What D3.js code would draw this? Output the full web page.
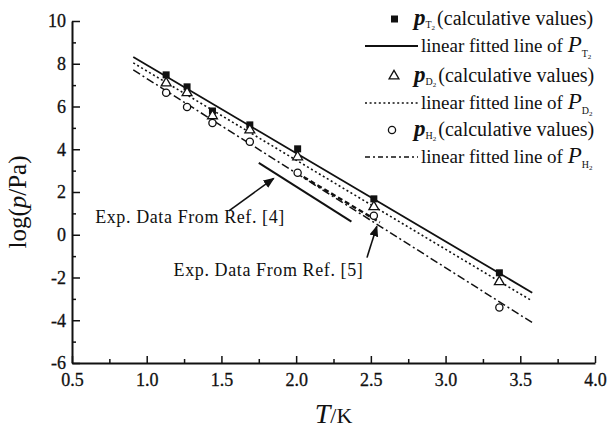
<!DOCTYPE html>
<html><head><meta charset="utf-8">
<script src="https://cdn.jsdelivr.net/npm/d3@7"></script>
<style>
body{margin:0;background:#fff}
svg{display:block}
text{font-family:"Liberation Serif","Times New Roman",serif;fill:#111}
</style>
</head><body>
<svg id="c" width="608" height="429"></svg>
<script>
// ---- data ----
const temps = [1.13, 1.27, 1.44, 1.69, 2.01, 2.52, 3.36];
const pT = [7.48, 6.92, 5.79, 5.14, 4.02, 1.68, -1.78];
const pD = [7.10, 6.64, 5.56, 4.90, 3.64, 1.31, -2.20];
const pH = [6.64, 5.98, 5.23, 4.35, 2.90, 0.89, -3.40];
const fitX = [0.91, 3.58];
const fitT = [8.32, -2.71];
const fitD = [8.04, -3.10];
const fitH = [7.71, -4.11];
const ref4X = [1.75, 2.37];
const ref4Y = [3.36, 0.61];
const ref5X = [2.05, 2.56];
const ref5Y = [2.70, 0.58];
const xTicks = [0.5, 1.0, 1.5, 2.0, 2.5, 3.0, 3.5, 4.0];
const xMinor = [0.75, 1.25, 1.75, 2.25, 2.75, 3.25, 3.75];
const yTicks = [-6, -4, -2, 0, 2, 4, 6, 8, 10];
const yMinor = [-5, -3, -1, 1, 3, 5, 7, 9];
const ann4 = {text: "Exp. Data From Ref. [4]", x: 0.655, y: 0.84, ax: [1.55, 1.85], ay: [1.12, 2.64]};
const ann5 = {text: "Exp. Data From Ref. [5]", x: 1.18, y: -1.64, ax: [2.474, 2.54], ay: [-1.07, 0.40]};

const svg = d3.select("#c");
const x = d3.scaleLinear().domain([0.5, 4.0]).range([72, 595]);
const y = d3.scaleLinear().domain([-6, 10]).range([363, 21]);

svg.append("defs").append("marker")
  .attr("id", "ah").attr("viewBox", "0 0 10 10").attr("refX", 9).attr("refY", 5)
  .attr("markerWidth", 7).attr("markerHeight", 7).attr("orient", "auto")
  .append("path").attr("d", "M0,1 L10,5 L0,9 Z").attr("fill", "#111");

// axes
svg.append("g").attr("transform", `translate(0,${y(-6)})`)
  .call(d3.axisBottom(x).tickValues(xTicks).tickSizeInner(-7).tickSizeOuter(0).tickPadding(10).tickFormat(d3.format(".1f")));
svg.append("g").attr("transform", `translate(0,${y(-6)})`)
  .call(d3.axisBottom(x).tickValues(xMinor).tickSizeInner(-4).tickSizeOuter(0).tickFormat(""))
  .select(".domain").remove();
svg.append("g").attr("transform", `translate(${x(0.5)},0)`)
  .call(d3.axisLeft(y).tickValues(yTicks).tickSizeInner(-8).tickSizeOuter(0).tickPadding(6).tickFormat(d => String(d)));
svg.append("g").attr("transform", `translate(${x(0.5)},0)`)
  .call(d3.axisLeft(y).tickValues(yMinor).tickSizeInner(-4).tickSizeOuter(0).tickFormat(""))
  .select(".domain").remove();
svg.selectAll(".domain").attr("stroke", "#111").attr("stroke-width", 2);
svg.selectAll(".tick line").attr("stroke", "#111").attr("stroke-width", 1.5);
svg.selectAll(".tick text").attr("font-size", 18).attr("font-family", "Liberation Serif").attr("fill", "#111")
  .attr("stroke", "#111").attr("stroke-width", 0.3);

// axis titles
svg.append("text").attr("transform", `translate(26,${(y(10)+y(-6))/2 + 10}) rotate(-90)`)
  .attr("text-anchor", "middle").attr("font-size", 25)
  .call(t => { t.append("tspan").text("log("); t.append("tspan").attr("font-style", "italic").text("p"); t.append("tspan").text("/Pa)"); });
svg.append("text").attr("x", (x(0.5)+x(4))/2).attr("y", 423).attr("text-anchor", "middle").attr("font-size", 28)
  .call(t => { t.append("tspan").attr("font-style", "italic").text("T"); t.append("tspan").attr("font-size", 22).text("/K"); });

// fitted lines
const line = d3.line().x(d => x(d[0])).y(d => y(d[1]));
const fits = [
  {ys: fitT, dash: null, w: 1.8},
  {ys: fitD, dash: "2,2.6", w: 1.6},
  {ys: fitH, dash: "8,3,2,3", w: 1.5}
];
fits.forEach(f => {
  svg.append("path").attr("d", line(d3.zip(fitX, f.ys))).attr("fill", "none")
    .attr("stroke", "#111").attr("stroke-width", f.w).attr("stroke-dasharray", f.dash);
});
// experimental refs
svg.append("path").attr("d", line(d3.zip(ref4X, ref4Y))).attr("stroke", "#111").attr("stroke-width", 2).attr("fill", "none");
svg.append("path").attr("d", line(d3.zip(ref5X, ref5Y))).attr("stroke", "#111").attr("stroke-width", 2.4)
  .attr("stroke-dasharray", "5,3").attr("fill", "none");

// points
const sym = d3.symbol();
svg.selectAll(".pt").data(d3.zip(temps, pT)).join("rect")
  .attr("x", d => x(d[0]) - 3.5).attr("y", d => y(d[1]) - 3.5).attr("width", 7).attr("height", 7).attr("fill", "#111");
svg.selectAll(".pd").data(d3.zip(temps, pD)).join("path")
  .attr("transform", d => `translate(${x(d[0])},${y(d[1])})`)
  .attr("d", sym.type(d3.symbolTriangle).size(42)()).attr("fill", "#fff").attr("stroke", "#111").attr("stroke-width", 1.3);
svg.selectAll(".ph").data(d3.zip(temps, pH)).join("circle")
  .attr("cx", d => x(d[0])).attr("cy", d => y(d[1])).attr("r", 3.6).attr("fill", "#fff").attr("stroke", "#111").attr("stroke-width", 1.3);

// annotations
[ann4, ann5].forEach(a => {
  svg.append("text").attr("x", x(a.x)).attr("y", y(a.y)).attr("dy", "0.35em").attr("font-size", 18)
    .attr("letter-spacing", 0.6).text(a.text);
  svg.append("path").attr("d", line(d3.zip(a.ax, a.ay))).attr("stroke", "#111").attr("stroke-width", 1.6)
    .attr("fill", "none").attr("marker-end", "url(#ah)");
});

// legend
const legend = [
  {kind: "square", sub: "T", rowY: 19},
  {kind: "solid", sub: "T", rowY: 46},
  {kind: "tri", sub: "D", rowY: 76},
  {kind: "dot", sub: "D", rowY: 103},
  {kind: "circ", sub: "H", rowY: 130},
  {kind: "dashdot", sub: "H", rowY: 157}
];
const lg = svg.append("g");
legend.forEach(it => {
  const cy = it.rowY;
  if (it.kind === "square") lg.append("rect").attr("x", 391).attr("y", cy - 3.5).attr("width", 7).attr("height", 7).attr("fill", "#111");
  if (it.kind === "tri") lg.append("path").attr("transform", `translate(394,${cy})`).attr("d", d3.symbol().type(d3.symbolTriangle).size(42)())
    .attr("fill", "#fff").attr("stroke", "#111").attr("stroke-width", 1.3);
  if (it.kind === "circ") lg.append("circle").attr("cx", 392).attr("cy", cy).attr("r", 3.6).attr("fill", "#fff").attr("stroke", "#111").attr("stroke-width", 1.3);
  const dash = {solid: null, dot: "2,2.6", dashdot: "5,3,2,3"}[it.kind];
  if (["solid", "dot", "dashdot"].includes(it.kind)) {
    lg.append("line").attr("x1", 365).attr("x2", 418).attr("y1", cy).attr("y2", cy)
      .attr("stroke", "#111").attr("stroke-width", it.kind === "solid" ? 1.8 : 1.5).attr("stroke-dasharray", dash);
    const t = lg.append("text").attr("x", 421).attr("y", cy).attr("dy", "0.32em").attr("font-size", 19);
    t.append("tspan").text("linear fitted line of ");
    t.append("tspan").attr("font-style", "italic").attr("font-size", 23).text("P");
    t.append("tspan").attr("font-size", 10).attr("dy", 5).text(it.sub);
    t.append("tspan").attr("font-size", 7).attr("dy", 2).text("2");
  } else {
    const t = lg.append("text").attr("x", 414).attr("y", cy).attr("dy", "0.32em").attr("font-size", 20);
    t.append("tspan").attr("font-style", "italic").attr("font-weight", "bold").attr("font-size", 23).text("p");
    t.append("tspan").attr("font-size", 10).attr("dy", 3).text(it.sub);
    t.append("tspan").attr("font-size", 7).attr("dy", 1.5).text("2");
    t.append("tspan").attr("dy", -4.5).attr("dx", 2).text("(calculative values)");
  }
});
</script>
</body></html>
